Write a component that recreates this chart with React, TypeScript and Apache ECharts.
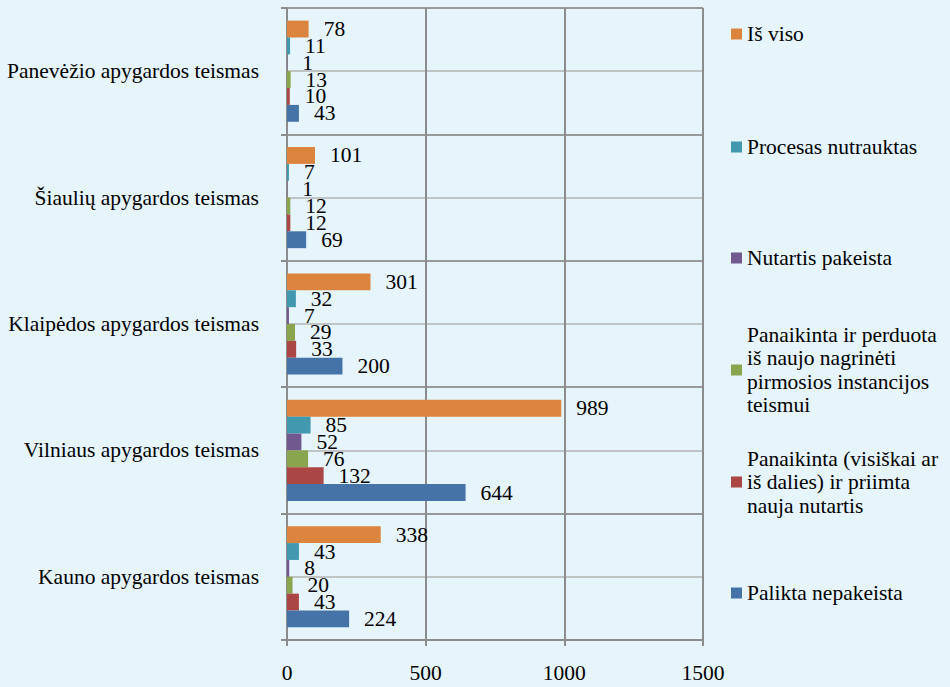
import React, { useEffect, useRef } from "react";
import * as echarts from "echarts";

const categories = [
  "Kauno apygardos teismas",
  "Vilniaus apygardos teismas",
  "Klaipėdos apygardos teismas",
  "Šiaulių apygardos teismas",
  "Panevėžio apygardos teismas",
];

// top-to-bottom order within each category
const seriesNames = [
  "Iš viso",
  "Procesas nutrauktas",
  "Nutartis pakeista",
  "Panaikinta ir perduota iš naujo nagrinėti pirmosios instancijos teismui",
  "Panaikinta (visiškai ar iš dalies) ir priimta nauja nutartis",
  "Palikta nepakeista",
];

const isViso = [338, 989, 301, 101, 78];
const nutrauktas = [43, 85, 32, 7, 11];
const pakeista = [8, 52, 7, 1, 1];
const perduota = [20, 76, 29, 12, 13];
const panaikintaNauja = [43, 132, 33, 12, 10];
const palikta = [224, 644, 200, 69, 43];

const xTicks = [0, 500, 1000, 1500];

const colors = ["#DB843D", "#4198AF", "#71588F", "#89A54E", "#AA4643", "#4572A7"];

const legendLines: string[][] = [
  ["Iš viso"],
  ["Procesas nutrauktas"],
  ["Nutartis pakeista"],
  ["Panaikinta ir perduota", "iš naujo nagrinėti", "pirmosios instancijos", "teismui"],
  ["Panaikinta (visiškai ar", "iš dalies) ir priimta", "nauja nutartis"],
  ["Palikta nepakeista"],
];
const legendIconY = [34, 147, 258, 370, 482, 593];

const FONT = "Liberation Serif";
const FS = 21.5;

export default function App() {
  const ref = useRef<HTMLDivElement>(null);
  useEffect(() => {
    if (!ref.current) return;
    const chart = echarts.init(ref.current, undefined, { renderer: "svg" });
    const values = [isViso, nutrauktas, pakeista, perduota, panaikintaNauja, palikta];
    const L = 23.5;
    const legends = seriesNames.map((name, i) => {
      const n = legendLines[i].length;
      const pTop = (n - 1) * L;
      const boxH = n * L + pTop;
      return {
        data: [name],
        orient: "vertical",
        left: 731,
        top: legendIconY[i] - boxH / 2,
        padding: 0,
        itemWidth: 11,
        itemHeight: 11,
        itemGap: 4,
        icon: "rect",
        selectedMode: false,
        formatter: () => legendLines[i].join("\n"),
        textStyle: {
          fontFamily: FONT,
          fontSize: FS,
          color: "#000",
          lineHeight: L,
          padding: [pTop, 0, 0, 0],
        },
      };
    });
    chart.setOption({
      animation: false,
      backgroundColor: "#e6f4fc",
      color: colors,
      textStyle: { fontFamily: FONT },
      legend: legends,
      grid: { left: 287, right: 247, top: 8, bottom: 47, containLabel: false },
      xAxis: {
        type: "value",
        min: 0,
        max: 1500,
        interval: 500,
        axisLine: { show: true, lineStyle: { color: "#8c8c8c", width: 2 } },
        axisTick: { show: true, length: 6, lineStyle: { color: "#8c8c8c", width: 2 } },
        axisLabel: {
          margin: 22,
          fontSize: FS,
          color: "#000",
          fontFamily: FONT,
          formatter: (v: number) => (xTicks.includes(v) ? String(v) : ""),
        },
        splitLine: { show: true, lineStyle: { color: "#8c8c8c", width: 2 } },
      },
      yAxis: [
        {
          type: "value",
          min: 0,
          max: 10,
          interval: 1,
          position: "right",
          axisLine: { show: false },
          axisTick: { show: false },
          axisLabel: { show: false },
          splitLine: { show: true, lineStyle: { color: "#b5b5b5", width: 1.5 } },
        },
        {
          type: "category",
          data: categories,
          position: "left",
          axisLine: { show: true, onZero: false, lineStyle: { color: "#8c8c8c", width: 2 } },
          axisTick: { show: true, length: 6, lineStyle: { color: "#8c8c8c", width: 2 } },
          axisLabel: { margin: 28, fontSize: FS, color: "#000", fontFamily: FONT },
          splitLine: { show: true, lineStyle: { color: "#999999", width: 2 } },
        },
      ],
      series: seriesNames.map((name, i) => ({
        name,
        type: "bar",
        yAxisIndex: 1,
        data: values[i],
        barGap: "0%",
        barCategoryGap: "20%",
        itemStyle: { color: colors[i] },
        label: {
          show: true,
          position: "right",
          distance: 15,
          fontSize: FS,
          color: "#000",
          fontFamily: FONT,
        },
      })),
    });
    return () => chart.dispose();
  }, []);
  return (
    <div
      ref={ref}
      style={{ position: "absolute", left: 0, top: 0, width: 950, height: 687 }}
    />
  );
}
